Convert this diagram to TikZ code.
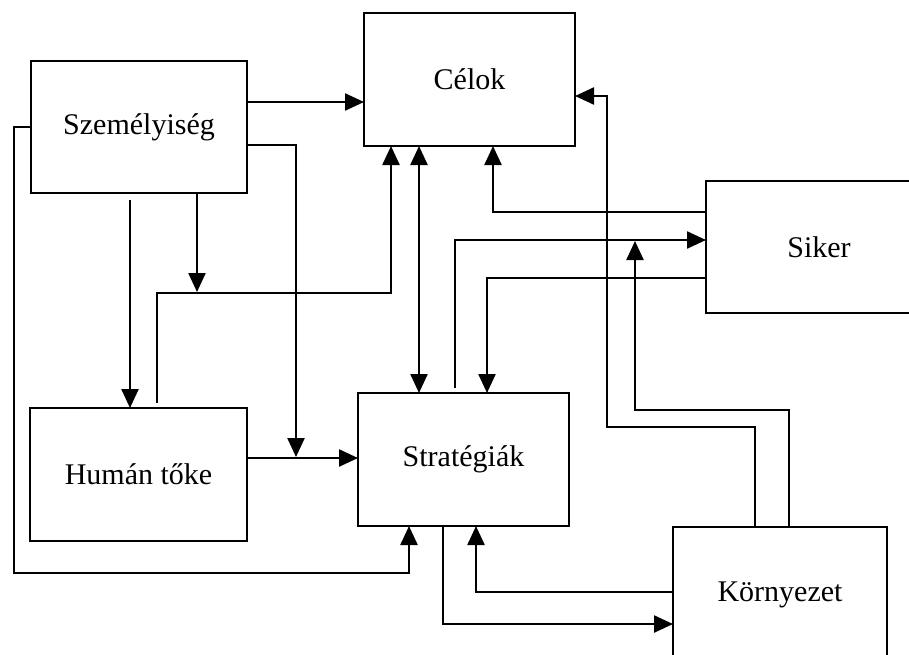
\documentclass[tikz,border=0pt]{standalone}
\usepackage{fontspec}
\setmainfont{Liberation Serif}
\usetikzlibrary{arrows.meta}
\begin{document}
\begin{tikzpicture}[x=1pt,y=-1pt,
  box/.style={draw,line width=2.4pt,inner sep=0pt,outer sep=0pt,font=\fontsize{30}{36}\selectfont,fill=none},
  conn/.style={line width=2.4pt},
  arr/.style={conn,-{Triangle[length=19pt,width=17pt]}},
  dbl/.style={conn,{Triangle[length=19pt,width=17pt]}-{Triangle[length=19pt,width=17pt]}}]
\fill[white] (0,0) rectangle (909,654);
\clip (0,0) rectangle (909,654);
% boxes
\node[box,minimum width=216pt,minimum height=132pt] (sz) at (139,127) {Személyiség};
\node[box,minimum width=211pt,minimum height=133pt] (cel) at (469.5,79.5) {Célok};
\node[box,minimum width=226pt,minimum height=132pt] (sik) at (819,247) {Siker};
\node[box,minimum width=217pt,minimum height=133pt] (hum) at (138.5,474.5) {Humán tőke};
\node[box,minimum width=211pt,minimum height=133pt] (str) at (463.5,459.5) {Stratégiák};
\node[box,minimum width=214pt,minimum height=136pt] (kor) at (780,595) {Környezet};
% junction points
\coordinate (j1) at (296,457);
\coordinate (j2) at (197,292);
\coordinate (j3) at (635,241);
% connectors
\draw[arr] (sz.east |- 0,102) -- (cel.west |- 0,102);
\draw[arr] (sz.east |- 0,145) -| (j1);
\draw[arr] (hum.east |- 0,458) -- (str.west |- 0,458);
\draw[arr,shorten <=5pt] (hum.north -| 157,0) |- (391,293) -- (cel.south -| 391,0);
\draw[arr] (sz.south -| 197,0) -- (j2);
\draw[arr,shorten <=7pt] (sz.south -| 130,0) -- (hum.north -| 130,0);
\draw[arr] (sz.west |- 0,127) -- (14,127) |- (409,573) -- (str.south -| 409,0);
\draw[dbl] (cel.south -| 419,0) -- (str.north -| 419,0);
\draw[arr,shorten <=5pt] (str.north -| 455,0) |- (sik.west |- 0,240);
\draw[arr] (sik.west |- 0,278) -| (str.north -| 487,0);
\draw[arr] (sik.west |- 0,212) -| (cel.south -| 493,0);
\draw[arr] (kor.north -| 755,0) -- (755,427) -- (607,427) |- (cel.east |- 0,96);
\draw[arr] (kor.north -| 789,0) -- (789,410) -| (j3);
\draw[arr] (kor.west |- 0,592) -| (str.south -| 476,0);
\draw[arr] (str.south -| 443,0) |- (kor.west |- 0,624);
\end{tikzpicture}
\end{document}
